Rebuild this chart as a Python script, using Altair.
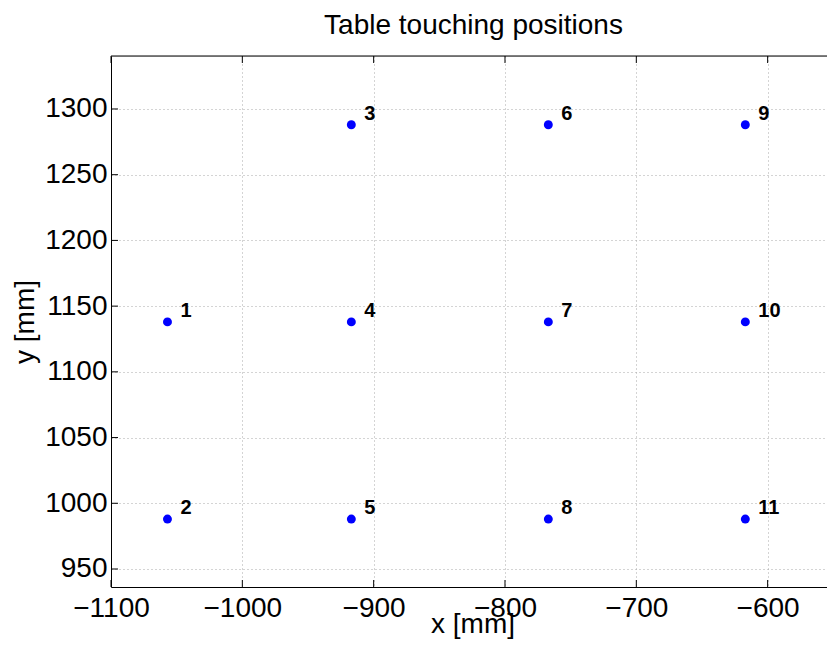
import altair as alt
import pandas as pd

# ---- data ----
labels = ["1", "2", "3", "4", "5", "6", "7", "8", "9", "10", "11"]
x_mm = [-1057, -1057, -917, -917, -917, -767, -767, -767, -617, -617, -617]
y_mm = [1138, 988, 1288, 1138, 988, 1288, 1138, 988, 1288, 1138, 988]
x_ticks = [-1100, -1000, -900, -800, -700, -600]
y_ticks = [950, 1000, 1050, 1100, 1150, 1200, 1250, 1300]

W, H = 716, 531
FONT = "Liberation Sans"
xs = alt.Scale(domain=[-1100, -554.8], nice=False, zero=False)
ys = alt.Scale(domain=[936.3, 1340.3], nice=False, zero=False)

pts_df = pd.DataFrame({"x": x_mm, "y": y_mm, "label": labels})
xt_df = pd.DataFrame({"x": x_ticks})
yt_df = pd.DataFrame({"y": y_ticks})
one_df = pd.DataFrame({"d": [0]})

xaxis = alt.Axis(
    values=x_ticks, format="d", title="x [mm]", grid=True, gridDash=[1, 3],
    gridColor="#a8a8a8", gridWidth=1, ticks=False, tickSize=0, labelPadding=7,
    labelFontSize=28, labelFont=FONT, labelColor="black", labelFlush=False,
    labelOverlap=False, domainColor="black", domainWidth=1, titleFontSize=28,
    titleFont=FONT, titleFontWeight="normal", titleColor="black", titleX=361.5,
    titleY=45, titleBaseline="alphabetic", titleAlign="center",
)
yaxis = alt.Axis(
    values=y_ticks, format="d", title="y [mm]", grid=True, gridDash=[1, 3],
    gridColor="#a8a8a8", gridWidth=1, ticks=False, tickSize=0, labelPadding=4,
    labelFontSize=28, labelFont=FONT, labelColor="black", labelFlush=False,
    labelOverlap=False, domainColor="black", domainWidth=1, titleFontSize=28,
    titleFont=FONT, titleFontWeight="normal", titleColor="black", titleX=-78,
    titleY=265.5, titleAngle=270, titleBaseline="alphabetic", titleAlign="center",
)

X = alt.X("x:Q", scale=xs, axis=xaxis)
Y = alt.Y("y:Q", scale=ys, axis=yaxis)

points = alt.Chart(pts_df).mark_point(
    shape="circle", filled=True, size=80, color="#0000ff", opacity=1
).encode(x=X, y=Y)

texts = alt.Chart(pts_df).mark_text(
    align="left", baseline="alphabetic", dx=13, dy=-5, fontSize=20,
    fontWeight="bold", font=FONT, color="black"
).encode(x=X, y=Y, text="label:N")

bottom_ticks = alt.Chart(xt_df).mark_tick(
    orient="vertical", size=7, thickness=1, color="black", opacity=1
).encode(x=X, y=alt.value(H - 3.5))

top_ticks = alt.Chart(xt_df).mark_tick(
    orient="vertical", size=7, thickness=1, color="black", opacity=1
).encode(x=X, y=alt.value(3.5))

left_ticks = alt.Chart(yt_df).mark_tick(
    orient="horizontal", size=7, thickness=1, color="black", opacity=1
).encode(y=Y, x=alt.value(3.5))

top_border = alt.Chart(one_df).mark_rule(color="black", strokeWidth=1).encode(
    x=alt.value(0), x2=alt.value(W), y=alt.value(0)
)

chart = alt.layer(
    points, texts, bottom_ticks, top_ticks, left_ticks, top_border
).properties(
    width=W, height=H,
    title=alt.TitleParams(
        "Table touching positions", fontSize=28, font=FONT, fontWeight="normal",
        color="black", anchor="middle", frame="group", baseline="bottom",
        offset=17, dx=4.5, dy=29,
    ),
    autosize=alt.AutoSizeParams(type="none"),
    padding={"left": 111, "top": 56, "right": 0, "bottom": 66},
).configure_view(stroke=None).configure(background="white")

chart.save("out.html", embed_options={"renderer": "svg", "actions": False})
